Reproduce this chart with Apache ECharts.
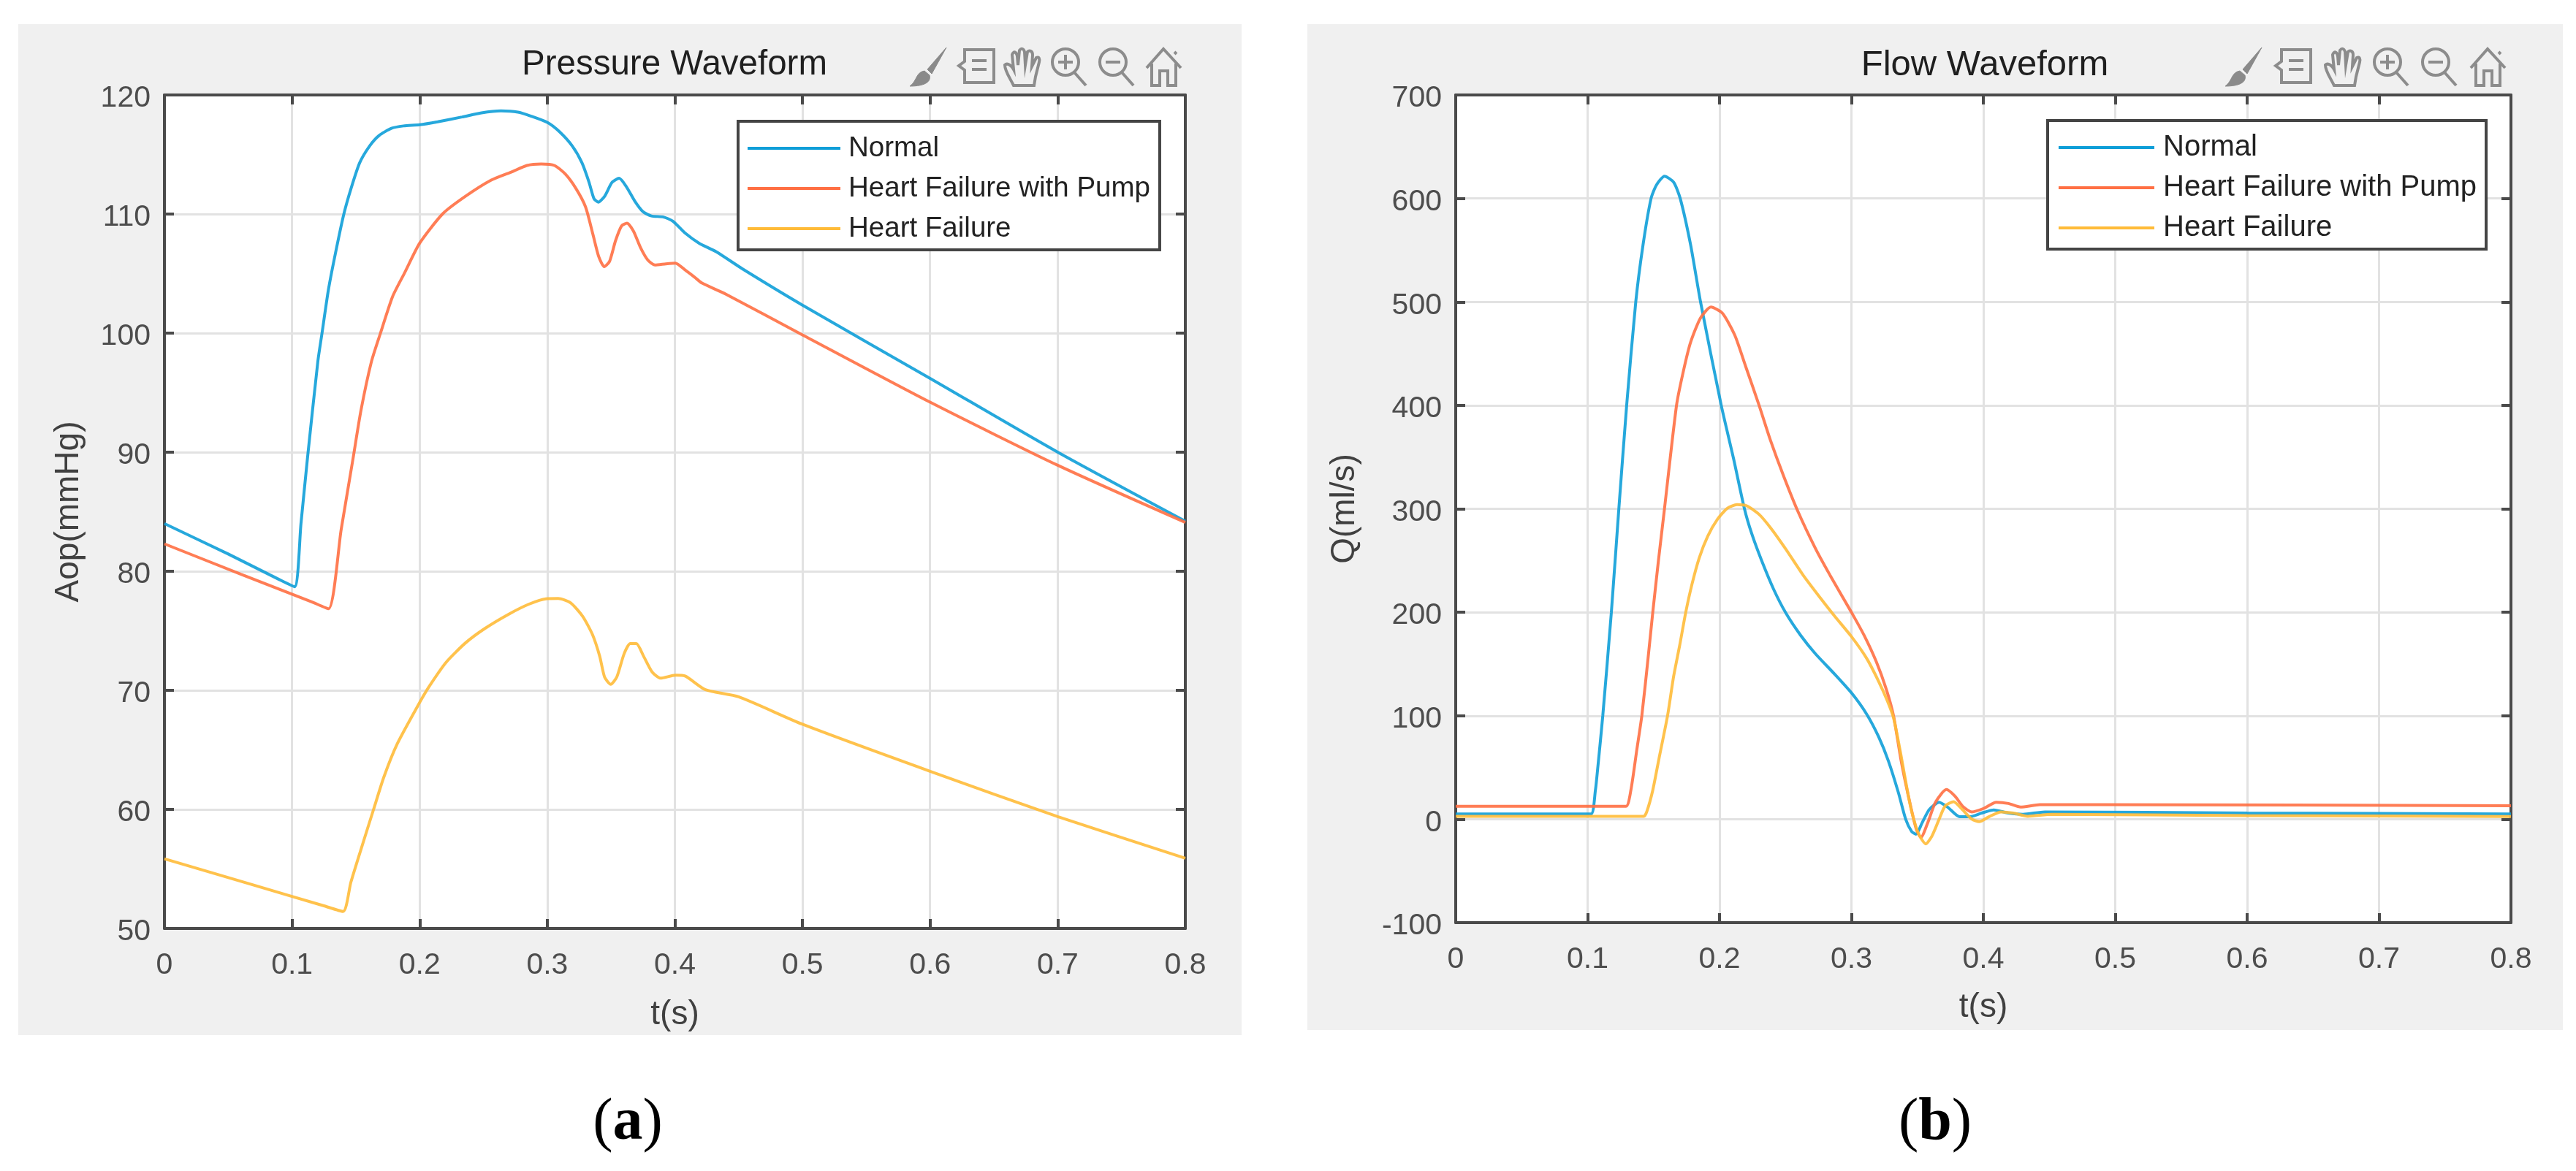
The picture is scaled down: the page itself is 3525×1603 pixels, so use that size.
<!DOCTYPE html>
<html>
<head>
<meta charset="utf-8">
<style>html,body{margin:0;padding:0;background:#fff}#c{width:3525px;height:1603px}</style>
<script src="https://cdn.jsdelivr.net/npm/echarts@6/dist/echarts.min.js"></script>
</head>
<body>
<div id="c"></div>
<script>
const seriesNames = ['Normal', 'Heart Failure with Pump', 'Heart Failure'];
const timeTicks = [0, 0.1, 0.2, 0.3, 0.4, 0.5, 0.6, 0.7, 0.8];

// Pressure waveform (a)
const pressureNormalT = [0,0.05,0.09,0.102,0.107,0.112,0.1202,0.1235,0.1286,0.134,0.1406,0.1464,0.153,0.1607,0.1683,0.1779,0.1874,0.2,0.2141,0.2332,0.2485,0.2637,0.277,0.2866,0.3,0.3094,0.3197,0.3272,0.3328,0.3366,0.34,0.345,0.3507,0.3563,0.362,0.3685,0.375,0.3816,0.391,0.3985,0.408,0.419,0.4323,0.4529,0.5,0.6,0.7,0.8];
const pressureNormal = [84,81.45,79.3,78.7,84,89.4,97.6,100,103.7,106.7,110,112.2,114.3,115.7,116.6,117.2,117.4,117.5,117.75,118.15,118.5,118.66,118.56,118.25,117.7,116.93,115.7,114.3,112.65,111.3,111,111.5,112.65,113,112.3,111.1,110.2,109.84,109.75,109.4,108.4,107.55,106.84,105.4,102.35,96.2,90,84.2];
const pressurePumpT = [0,0.06,0.115,0.1286,0.1385,0.1477,0.154,0.1622,0.1693,0.1788,0.1884,0.2,0.2179,0.2351,0.2561,0.2728,0.2841,0.2953,0.3056,0.3141,0.3225,0.33,0.3356,0.3403,0.3447,0.3488,0.3535,0.3582,0.3625,0.3675,0.3732,0.3788,0.3844,0.3929,0.4004,0.4079,0.4154,0.4213,0.44,0.5,0.6,0.7,0.8];
const pressurePump = [82.3,79.75,77.45,76.85,83.5,89.4,93.5,97.6,100,103.07,105.1,107.55,110,111.43,112.85,113.57,114.08,114.2,114.08,113.36,112.14,110.6,108.37,106.43,105.58,106.02,107.76,109,109.23,108.57,107.15,106.13,105.72,105.82,105.88,105.31,104.7,104.2,103.27,99.85,94.2,88.9,84.1];
const pressureFailT = [0,0.07,0.125,0.14,0.1461,0.1537,0.1639,0.1719,0.1824,0.2,0.2073,0.2207,0.2359,0.2512,0.2704,0.2857,0.299,0.3086,0.3182,0.3277,0.3354,0.3411,0.3449,0.3497,0.3545,0.3602,0.365,0.3698,0.3755,0.3822,0.3889,0.4004,0.408,0.424,0.45,0.5,0.6,0.7,0.8];
const pressureFail = [55.85,53.64,51.9,51.43,53.88,56.53,60,62.7,65.5,68.98,70.3,72.35,73.98,75.2,76.43,77.24,77.69,77.71,77.35,76.22,74.69,72.86,71.12,70.5,71.12,73.06,73.92,73.92,72.86,71.53,71.02,71.27,71.2,70.05,69.45,67.15,63.2,59.4,55.9];

// Flow waveform (b)
const flowNormalT = [0,0.09,0.1026,0.1059,0.1078,0.1115,0.118,0.1235,0.1296,0.1365,0.142,0.1481,0.1522,0.1583,0.1652,0.1702,0.1781,0.1856,0.2013,0.2106,0.2189,0.2244,0.2319,0.2411,0.2504,0.2615,0.2726,0.2874,0.3004,0.3115,0.3207,0.3281,0.3356,0.3411,0.3457,0.349,0.3536,0.3591,0.3665,0.3729,0.3821,0.3895,0.3987,0.4079,0.419,0.43,0.4466,0.6,0.8];
const flowNormal = [5,5,5,28,51,100,200,297,400,500,555,600,613,621.5,615.7,600,555,500,400,348.7,300,276,250,222,199,177.7,160,140,121.5,101.6,79.4,56,25.7,0,-12,-14.5,-3.5,9.4,16.4,11.7,2.3,2.3,5.9,8.9,5.9,4.7,7,6,5];
const flowPumpT = [0,0.115,0.1291,0.1328,0.1374,0.1411,0.1457,0.1494,0.1537,0.158,0.1674,0.1726,0.1781,0.1856,0.1935,0.2022,0.2115,0.2198,0.23,0.2383,0.2485,0.2596,0.2726,0.2837,0.3,0.3096,0.3189,0.3263,0.3319,0.3374,0.343,0.349,0.3527,0.3582,0.3637,0.372,0.3785,0.3849,0.3913,0.4005,0.4098,0.419,0.4282,0.4429,0.49,0.8];
const flowPump = [12.4,12.4,12.4,28,68,100,154,200,250,297,400,433,461,484.5,495,489,468,437.7,400,367.4,332,297,262,236,200,177.7,152,126,100,58.5,23.4,-9,-17.6,-2.3,16.4,28.6,22.2,11.7,7,10.5,16.4,15.2,11.7,14,14,13];
const flowFailT = [0,0.13,0.1426,0.1448,0.1494,0.1541,0.1606,0.1652,0.1698,0.1744,0.1791,0.1846,0.1911,0.1985,0.2059,0.2133,0.2207,0.23,0.2393,0.2504,0.2633,0.2763,0.2874,0.3,0.3115,0.3207,0.3272,0.3319,0.3374,0.343,0.3462,0.3508,0.3564,0.361,0.3665,0.3711,0.3775,0.384,0.3913,0.3969,0.4042,0.4134,0.4227,0.4337,0.452,0.6,0.8];
const flowFail = [2.7,2.7,2.7,7,28,58.5,100,138,168,200,227,252.5,273.6,290,300.5,304,302.8,294.6,280.6,260.7,236,214,196,176.5,155.5,133,114.5,98,63,23.4,4.7,-14,-23.9,-16.4,0,12.9,16.9,9.4,0,-2.3,2.3,7,5.9,2.8,4.7,3.5,2.5];

const colors = ['#0e9ed8', '#ff6f43', '#ffbb38'];
const labelFont = 'Liberation Sans';
const zip = (t, v) => t.map((x, i) => [x, v[i]]);

function axes(g, yMin, yMax, yInt, yName, yGap, xGap) {
  const line = {show: true, onZero: false, lineStyle: {color: '#4a4a4a', width: 4}};
  const tick = {show: true, inside: true, length: 13, lineStyle: {color: '#4a4a4a', width: 4}};
  const grid = {show: true, lineStyle: {color: '#e2e2e2', width: 3}};
  const text = {color: '#4d4d4d', fontFamily: labelFont, fontSize: 41};
  const nameText = {color: '#404040', fontFamily: labelFont, fontSize: 46};
  return {
    x: [
      {type: 'value', gridIndex: g, min: 0, max: 0.8, interval: 0.1, position: 'bottom', axisLine: line, axisTick: tick, splitLine: grid,
       axisLabel: Object.assign({margin: 30}, text), name: 't(s)', nameLocation: 'middle', nameGap: xGap, nameTextStyle: nameText},
      {type: 'value', gridIndex: g, min: 0, max: 0.8, interval: 0.1, position: 'top', axisLine: line, axisTick: tick, splitLine: {show: false}, axisLabel: {show: false}}
    ],
    y: [
      {type: 'value', gridIndex: g, min: yMin, max: yMax, interval: yInt, position: 'left', axisLine: line, axisTick: tick, splitLine: grid,
       axisLabel: Object.assign({margin: 19, verticalAlign: 'top', lineHeight: 10}, text), name: yName, nameLocation: 'middle', nameGap: yGap, nameTextStyle: nameText},
      {type: 'value', gridIndex: g, min: yMin, max: yMax, interval: yInt, position: 'right', axisLine: line, axisTick: tick, splitLine: {show: false}, axisLabel: {show: false}}
    ]
  };
}
const axA = axes(0, 50, 120, 10, 'Aop(mmHg)', 108, 95);
const axB = axes(1, -100, 700, 100, 'Q(ml/s)', 129, 93);

function lineSeries(name, idx, xi, yi, data) {
  return {type: 'line', name, xAxisIndex: xi, yAxisIndex: yi, data, color: colors[idx], showSymbol: false, symbol: 'none',
    smooth: 0.22, clip: true, lineStyle: {width: 4, color: colors[idx], opacity: 0.9}, z: 3 + idx};
}

function legendBox(left, top, fs, padL, padR, itemW, txtPad, gap) {
  return {show: true, left, top, orient: 'vertical', data: seriesNames, icon: 'rect', itemWidth: itemW, itemHeight: 4, itemGap: gap,
    padding: [15, padR, 7, padL], backgroundColor: '#fff', borderColor: '#444', borderWidth: 4, selectedMode: false,
    textStyle: {fontFamily: labelFont, fontSize: fs, color: '#222', lineHeight: 44, padding: [0, 0, 0, txtPad]}};
}

const icons = [
  'M50 0 L24 30 L30 36 Z M20 32 C8 34 10 46 0 53 C14 53 30 50 27 38 Z',
  'M10 3 H50 V48 H10 V31 L2 25 L10 19 Z M20 18 H40 M20 30 H40',
  'M14 52 C8 40 2 32 2 24 C6 20 12 26 14 30 L12 10 C14 4 18 6 19 12 L20 24 L22 4 C25 0 28 2 29 6 L30 24 L33 6 C36 3 40 5 40 10 L39 26 L45 14 C49 12 50 16 49 20 L44 40 L42 52 Z',
  'M38 20 A18 18 0 1 1 2 20 A18 18 0 1 1 38 20 Z M32 34 L48 52 M20 10 V30 M10 20 H30',
  'M38 20 A18 18 0 1 1 2 20 A18 18 0 1 1 38 20 Z M32 34 L48 52 M10 20 H30',
  'M2 28 L25 2 L49 28 M9 22 V52 H20 V32 H31 V52 H42 V22 M40 6 L43 9'
];
icons.forEach((p, i) => echarts.graphic.registerShape('toolIcon' + i, echarts.graphic.extendPath(p, {})));
const iconXA = [1245, 1310, 1373, 1438, 1503, 1567];
const iconXB = [3045, 3112, 3180, 3247, 3313, 3379];

function iconEls(xs) {
  return icons.map((p, i) => ({
    type: 'toolIcon' + i, x: xs[i], y: 65, z: 5, shape: {},
    style: i === 0 ? {fill: '#8a8a8a', stroke: '#8a8a8a', lineWidth: 1} : {fill: 'none', stroke: '#8c8c8c', lineWidth: 4}
  }));
}

function figTitle(text, left, top, size) {
  return {text, left, top, textAlign: 'center', textVerticalAlign: 'middle', padding: 0,
    textStyle: {fontFamily: labelFont, fontWeight: 'normal', fontSize: size, color: '#1f1f1f'}};
}
function panelLabel(letter, left) {
  return {text: '{n|(}{b|' + letter + '}{n|)}', left, top: 1538, textAlign: 'center', textVerticalAlign: 'middle', padding: 0,
    textStyle: {fontWeight: 'normal', rich: {
      n: {fontFamily: 'Liberation Serif', fontWeight: 'normal', fontSize: 82, color: '#000'},
      b: {fontFamily: 'Liberation Serif', fontWeight: 'bold', fontSize: 82, color: '#000'}}}};
}

const chart = echarts.init(document.getElementById('c'), null, {renderer: 'canvas'});
chart.setOption({
  animation: false,
  backgroundColor: '#fff',
  title: [
    figTitle('Pressure Waveform', 923, 89, 47.5),
    figTitle('Flow Waveform', 2716, 89, 49),
    panelLabel('a', 859),
    panelLabel('b', 2648)
  ],
  grid: [
    {left: 225, top: 130, width: 1397, height: 1141, show: true, backgroundColor: '#fff', borderWidth: 0},
    {left: 1992, top: 130, width: 1444, height: 1133, show: true, backgroundColor: '#fff', borderWidth: 0}
  ],
  xAxis: axA.x.concat(axB.x),
  yAxis: axA.y.concat(axB.y),
  legend: [
    legendBox(1010, 166, 38.5, 13, 13, 127, 6, 11),
    legendBox(2802, 165, 40, 15, 13, 131, 7, 11)
  ],
  series: [
    lineSeries(seriesNames[0], 0, 0, 0, zip(pressureNormalT, pressureNormal)),
    lineSeries(seriesNames[1], 1, 0, 0, zip(pressurePumpT, pressurePump)),
    lineSeries(seriesNames[2], 2, 0, 0, zip(pressureFailT, pressureFail)),
    lineSeries(seriesNames[0], 0, 2, 2, zip(flowNormalT, flowNormal)),
    lineSeries(seriesNames[1], 1, 2, 2, zip(flowPumpT, flowPump)),
    lineSeries(seriesNames[2], 2, 2, 2, zip(flowFailT, flowFail))
  ],
  graphic: [
    {type: 'rect', z: -1, shape: {x: 25, y: 33, width: 1674, height: 1384}, style: {fill: '#f0f0f0'}},
    {type: 'rect', z: -1, shape: {x: 1789, y: 33, width: 1718, height: 1377}, style: {fill: '#f0f0f0'}}
  ].concat(iconEls(iconXA), iconEls(iconXB))
});
</script>
</body>
</html>
